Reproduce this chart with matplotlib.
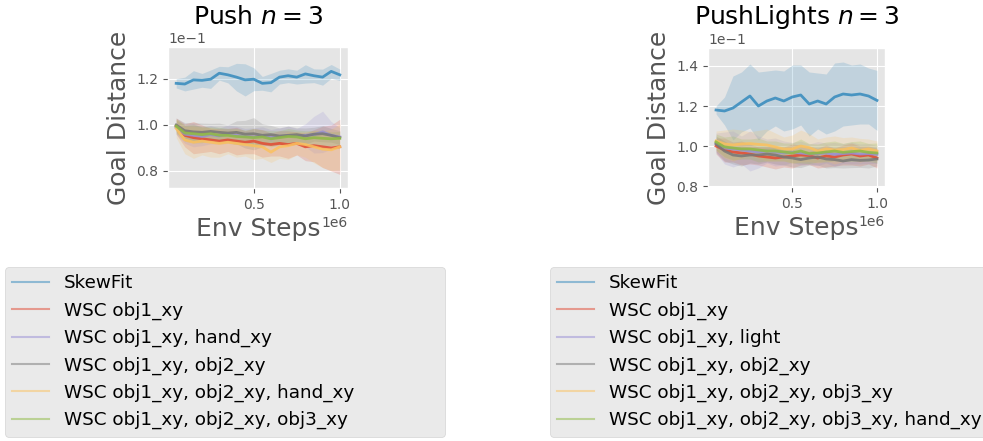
import matplotlib
matplotlib.use('Agg')
import numpy as np
from matplotlib import pyplot as plt
from matplotlib.lines import Line2D
from matplotlib.ticker import MultipleLocator

plt.style.use('ggplot')

# env steps (x) shared by every run
env_steps = [50000, 100000, 150000, 200000, 250000, 300000, 350000, 400000, 450000, 500000,
             550000, 600000, 650000, 700000, 750000, 800000, 850000, 900000, 950000, 1000000]

# goal distance, in units of 1e-1
# --- Push n=3 ---
push_labels = ['SkewFit', 'WSC obj1_xy', 'WSC obj1_xy, hand_xy', 'WSC obj1_xy, obj2_xy',
               'WSC obj1_xy, obj2_xy, hand_xy', 'WSC obj1_xy, obj2_xy, obj3_xy']
push_skewfit = [1.181, 1.178, 1.196, 1.194, 1.199, 1.225, 1.218, 1.208, 1.196, 1.199,
                1.181, 1.184, 1.208, 1.214, 1.208, 1.222, 1.214, 1.208, 1.233, 1.218]
push_obj1 = [0.995, 0.955, 0.945, 0.940, 0.935, 0.930, 0.935, 0.930, 0.925, 0.930,
             0.920, 0.915, 0.920, 0.915, 0.920, 0.905, 0.910, 0.905, 0.900, 0.905]
push_obj1_hand = [0.990, 0.960, 0.955, 0.950, 0.958, 0.952, 0.960, 0.955, 0.950, 0.948,
                  0.952, 0.945, 0.948, 0.955, 0.950, 0.955, 0.958, 0.970, 0.955, 0.948]
push_obj12 = [1.000, 0.975, 0.970, 0.968, 0.972, 0.968, 0.965, 0.968, 0.960, 0.962,
              0.955, 0.958, 0.952, 0.955, 0.958, 0.952, 0.960, 0.962, 0.955, 0.945]
push_obj12_hand = [0.985, 0.935, 0.925, 0.930, 0.925, 0.920, 0.925, 0.920, 0.915, 0.910,
                   0.905, 0.882, 0.905, 0.910, 0.920, 0.915, 0.905, 0.895, 0.892, 0.905]
push_obj123 = [0.995, 0.965, 0.962, 0.958, 0.962, 0.955, 0.955, 0.950, 0.948, 0.945,
               0.948, 0.940, 0.945, 0.950, 0.948, 0.940, 0.945, 0.942, 0.940, 0.942]

push_skewfit_std = [0.020, 0.030, 0.040, 0.030, 0.040, 0.030, 0.035, 0.060, 0.070, 0.050,
                    0.030, 0.040, 0.030, 0.030, 0.030, 0.040, 0.030, 0.035, 0.030, 0.025]
push_obj1_std = [0.035, 0.050, 0.070, 0.060, 0.050, 0.055, 0.050, 0.060, 0.050, 0.055,
                 0.060, 0.050, 0.055, 0.060, 0.050, 0.060, 0.070, 0.090, 0.100, 0.120]
push_obj1_hand_std = [0.030, 0.040, 0.050, 0.040, 0.040, 0.035, 0.040, 0.040, 0.035, 0.040,
                      0.040, 0.035, 0.040, 0.040, 0.035, 0.050, 0.080, 0.090, 0.060, 0.040]
push_obj12_std = [0.030, 0.035, 0.040, 0.040, 0.035, 0.040, 0.035, 0.050, 0.060, 0.070,
                  0.050, 0.040, 0.035, 0.040, 0.030, 0.035, 0.030, 0.035, 0.030, 0.030]
push_obj12_hand_std = [0.040, 0.060, 0.070, 0.060, 0.065, 0.060, 0.050, 0.060, 0.050, 0.060,
                       0.050, 0.045, 0.050, 0.060, 0.050, 0.055, 0.070, 0.080, 0.090, 0.100]
push_obj123_std = [0.030, 0.035, 0.040, 0.035, 0.030, 0.035, 0.030, 0.035, 0.030, 0.040,
                   0.030, 0.035, 0.030, 0.035, 0.030, 0.035, 0.030, 0.035, 0.030, 0.030]

# --- PushLights n=3 ---
lights_labels = ['SkewFit', 'WSC obj1_xy', 'WSC obj1_xy, light', 'WSC obj1_xy, obj2_xy',
                 'WSC obj1_xy, obj2_xy, obj3_xy', 'WSC obj1_xy, obj2_xy, obj3_xy, hand_xy']
lights_skewfit = [1.180, 1.175, 1.190, 1.220, 1.250, 1.200, 1.225, 1.240, 1.225, 1.245,
                  1.255, 1.210, 1.225, 1.210, 1.245, 1.260, 1.255, 1.260, 1.250, 1.228]
lights_obj1 = [1.000, 0.980, 0.970, 0.965, 0.960, 0.950, 0.945, 0.940, 0.945, 0.950,
               0.955, 0.952, 0.940, 0.950, 0.945, 0.955, 0.960, 0.950, 0.955, 0.940]
lights_obj1_light = [1.015, 0.990, 0.985, 0.980, 0.975, 0.970, 0.975, 0.970, 0.965, 0.968,
                     0.965, 0.960, 0.962, 0.965, 0.958, 0.962, 0.965, 0.960, 0.962, 0.958]
lights_obj12 = [1.010, 0.975, 0.955, 0.950, 0.955, 0.955, 0.960, 0.955, 0.945, 0.940,
                0.932, 0.940, 0.945, 0.935, 0.932, 0.925, 0.932, 0.928, 0.930, 0.935]
lights_obj123 = [1.025, 1.010, 1.005, 1.010, 1.012, 1.008, 1.005, 0.995, 0.985, 0.985,
                 1.000, 0.992, 0.975, 0.985, 0.980, 0.982, 0.990, 0.978, 0.985, 0.975]
lights_obj123_hand = [1.020, 0.995, 0.990, 0.985, 0.985, 0.980, 0.975, 0.975, 0.970, 0.965,
                      0.975, 0.962, 0.965, 0.970, 0.975, 0.968, 0.972, 0.975, 0.968, 0.965]

lights_skewfit_std = [0.020, 0.070, 0.160, 0.150, 0.160, 0.170, 0.150, 0.140, 0.150, 0.160,
                      0.150, 0.160, 0.140, 0.150, 0.170, 0.160, 0.150, 0.150, 0.140, 0.150]
lights_obj1_std = [0.040, 0.060, 0.050, 0.060, 0.050, 0.045, 0.050, 0.055, 0.050, 0.060,
                   0.050, 0.045, 0.050, 0.055, 0.045, 0.050, 0.055, 0.050, 0.045, 0.050]
lights_obj1_light_std = [0.050, 0.080, 0.090, 0.070, 0.100, 0.080, 0.060, 0.070, 0.060, 0.050,
                         0.060, 0.050, 0.060, 0.050, 0.060, 0.050, 0.055, 0.050, 0.050, 0.045]
lights_obj12_std = [0.040, 0.050, 0.045, 0.050, 0.040, 0.045, 0.040, 0.045, 0.040, 0.045,
                    0.040, 0.035, 0.040, 0.045, 0.040, 0.035, 0.040, 0.035, 0.040, 0.035]
lights_obj123_std = [0.050, 0.070, 0.080, 0.070, 0.060, 0.070, 0.080, 0.070, 0.060, 0.070,
                     0.080, 0.070, 0.060, 0.060, 0.070, 0.060, 0.055, 0.060, 0.050, 0.050]
lights_obj123_hand_std = [0.040, 0.050, 0.060, 0.050, 0.050, 0.060, 0.050, 0.050, 0.045, 0.050,
                          0.060, 0.050, 0.045, 0.050, 0.050, 0.045, 0.050, 0.050, 0.045, 0.050]

colors = ['#348ABD', '#E24A33', '#988ED5', '#777777', '#FBC15E', '#8EBA42']

push_means = [push_skewfit, push_obj1, push_obj1_hand, push_obj12, push_obj12_hand, push_obj123]
push_stds = [push_skewfit_std, push_obj1_std, push_obj1_hand_std, push_obj12_std,
             push_obj12_hand_std, push_obj123_std]
lights_means = [lights_skewfit, lights_obj1, lights_obj1_light, lights_obj12, lights_obj123,
                lights_obj123_hand]
lights_stds = [lights_skewfit_std, lights_obj1_std, lights_obj1_light_std, lights_obj12_std,
               lights_obj123_std, lights_obj123_hand_std]


def plot_panel(ax, title, means, stds, ylim):
    x = np.array(env_steps)
    for c, m, s in zip(colors, means, stds):
        m = np.array(m) * 1e-1
        s = np.array(s) * 1e-1
        ax.fill_between(x, m - s, m + s, color=c, alpha=0.2, lw=0)
    for c, m in zip(colors, means):
        ax.plot(x, np.array(m) * 1e-1, color=c, lw=2, alpha=0.85)
    ax.set_title(title, fontsize=18)
    ax.set_xlabel('Env Steps', fontsize=18)
    ax.set_ylabel('Goal Distance', fontsize=18)
    ax.ticklabel_format(style='sci', axis='both', scilimits=(0, 0))
    ax.xaxis.set_major_locator(MultipleLocator(0.5e6))
    ax.yaxis.set_major_locator(MultipleLocator(0.02))
    ax.set_xlim(0.0025e6, 1.0475e6)
    ax.set_ylim(*ylim)
    ax.tick_params(labelsize=10)


def add_legend(fig, labels, x0):
    handles = [Line2D([], [], color=c, lw=1.5, alpha=0.5) for c in colors]
    # legend box stretched to a fixed width (the right one runs off the canvas)
    fig.legend(handles, labels, loc='upper left',
               bbox_to_anchor=(x0, 0, 440 / 983, 1 - 267 / 441),
               mode='expand', borderaxespad=0, fontsize=13.2)


fig = plt.figure(figsize=(9.83, 4.41), dpi=100)
ax1 = fig.add_axes([168 / 983, 1 - 188 / 441, 180 / 983, 141 / 441])
ax2 = fig.add_axes([708 / 983, 1 - 187 / 441, 177 / 983, 139 / 441])

plot_panel(ax1, 'Push $n=3$', push_means, push_stds, (0.0726, 0.1339))
plot_panel(ax2, 'PushLights $n=3$', lights_means, lights_stds, (0.0795, 0.149))

add_legend(fig, push_labels, 5 / 983)
add_legend(fig, lights_labels, 550 / 983)

fig.savefig('out.png', dpi=100)
